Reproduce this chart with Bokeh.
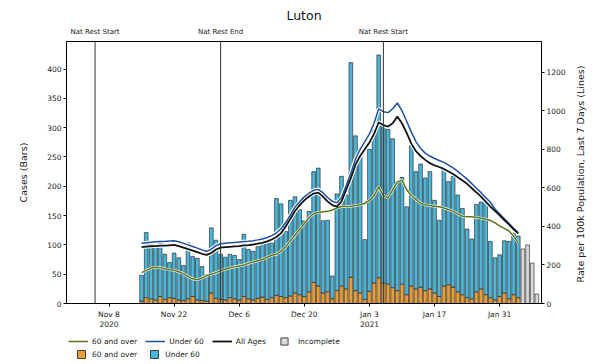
import math
import pandas as pd
from bokeh.plotting import figure
from bokeh.layouts import column, row
from bokeh.core.properties import value
from bokeh.models import (Range1d, LinearAxis, FixedTicker, Span, Legend,
                          LegendItem, ColumnDataSource)
from bokeh.embed import file_html
from bokeh.resources import INLINE

# ---------------- data ----------------
ref_date = pd.Timestamp("2020-11-08")
bar_start = "2020-11-15"

cases_total = [48, 121, 103, 100, 103, 84, 70, 86, 78, 65, 103, 80, 77, 63, 49, 129, 108, 84, 79, 84, 82, 75,
               118, 92, 89, 97, 113, 102, 103, 179, 170, 123, 176, 182, 160, 141, 157, 225, 231, 141, 142, 47, 187, 217, 185, 411,
               286, 255, 109, 263, 297, 424, 305, 297, 281, 207, 215, 165, 269, 225, 238, 214, 225, 176,
               142, 227, 208, 217, 185, 162, 127, 110, 169, 173, 172, 106, 78, 83, 107, 106, 120, 115]
cases_60_plus = [4, 10, 8, 6, 12, 7, 10, 9, 6, 5, 8, 12, 6, 5, 4, 18, 9, 7, 6, 10, 8, 6,
                 12, 8, 6, 9, 11, 7, 10, 14, 12, 10, 13, 18, 15, 12, 20, 36, 30, 18, 20, 8, 22, 30, 25, 45,
                 22, 18, 7, 21, 35, 44, 35, 33, 27, 22, 33, 15, 30, 25, 28, 22, 25, 18,
                 12, 30, 32, 28, 20, 15, 10, 8, 20, 25, 15, 10, 6, 12, 18, 8, 15, 10]
incomplete_dates = ["2021-02-05", "2021-02-06", "2021-02-07", "2021-02-08"]
incomplete_cases = [93, 100, 69, 16]

rate_all = [292, 295, 297, 298, 300, 300, 302, 304, 298, 290, 282, 274, 266, 258, 252, 262, 280, 290, 292, 294, 296, 298,
            301, 303, 306, 310, 315, 322, 332, 345, 365, 400, 440, 480, 510, 535, 555, 570, 575, 555, 530, 510, 503, 530, 590, 650,
            720, 765, 800, 835, 880, 940, 925, 918, 935, 970, 935, 885, 830, 790, 765, 745, 728, 716,
            708, 698, 685, 672, 655, 638, 621, 598, 576, 554, 528, 503, 480, 457, 433, 410, 385, 364]
rate_under_60 = [312, 315, 318, 320, 322, 322, 324, 326, 320, 312, 304, 296, 287, 278, 270, 282, 300, 310, 313, 315, 317, 319,
                 321, 323, 326, 330, 335, 342, 352, 366, 388, 420, 460, 500, 528, 553, 572, 587, 592, 575, 550, 530, 522, 550, 612, 675,
                 750, 800, 840, 880, 935, 1010, 995, 990, 1010, 1040, 1000, 945, 890, 840, 805, 780, 765, 752,
                 742, 732, 718, 703, 685, 665, 645, 622, 598, 575, 550, 525, 490, 465, 440, 415, 390, 368]
rate_60_plus = [160, 172, 183, 188, 186, 180, 175, 172, 165, 155, 140, 128, 123, 132, 145, 152, 160, 170, 178, 185, 190, 195,
                200, 208, 215, 222, 228, 240, 250, 255, 272, 295, 325, 355, 385, 415, 445, 467, 472, 476, 478, 485, 495, 503, 503, 505,
                508, 512, 520, 535, 560, 605, 560, 548, 590, 630, 640, 590, 560, 540, 520, 512, 508, 505,
                502, 495, 488, 478, 465, 452, 450, 450, 447, 442, 437, 431, 418, 402, 390, 376, 350, 315]

tick_dates = ["2020-11-08", "2020-11-22", "2020-12-06", "2020-12-20", "2021-01-03", "2021-01-17", "2021-01-31"]
tick_labels = ["Nov 8\n2020", "Nov 22", "Dec 6", "Dec 20", "Jan 3\n2021", "Jan 17", "Jan 31"]
left_ticks = [0, 50, 100, 150, 200, 250, 300, 350, 400]
right_ticks = [0, 200, 400, 600, 800, 1000, 1200]

event_dates = ["2020-11-05", "2020-12-02", "2021-01-06"]
event_labels = ["Nat Rest Start", "Nat Rest End", "Nat Rest Start"]

title_text = "Luton"
left_label = "Cases (Bars)"
right_label = "Rate per 100k Population, Last 7 Days (Lines)"

# ---------------- helpers ----------------
def day_num(d):
    return (pd.Timestamp(d) - ref_date).days

dates = pd.date_range(bar_start, periods=len(cases_total))
x = [day_num(d) for d in dates]
under = [t - o for t, o in zip(cases_total, cases_60_plus)]

src = ColumnDataSource(dict(x=x, over=cases_60_plus, total=cases_total, under=under,
                            r_all=rate_all, r_u60=rate_under_60, r_60=rate_60_plus))
inc_src = ColumnDataSource(dict(x=[day_num(d) for d in incomplete_dates], top=incomplete_cases))

FONT = "DejaVu Sans"
X0, X1 = -9.14, 93.0
Y1 = 447
R1 = 1359
MAIN_W = 572
STRIP_W = 598 - MAIN_W
MAIN_H = 332
LEG_H = 364 - MAIN_H

p = figure(width=MAIN_W, height=MAIN_H, output_backend="svg", toolbar_location=None,
           x_range=Range1d(X0, X1), y_range=Range1d(0, Y1),
           min_border_left=66, min_border_right=31, min_border_top=41, min_border_bottom=26)
p.extra_y_ranges = {"rate": Range1d(0, R1)}
p.grid.visible = False
p.outline_line_color = "black"
p.outline_line_width = 1
p.background_fill_color = "white"
p.border_fill_color = "white"

p.title.text = title_text
p.title.align = "center"
p.title.text_font = FONT
p.title.text_font_size = "12.5px"
p.title.text_font_style = "normal"
p.title.text_color = "#111111"
p.title.standoff = 3

teal = "#4ab6da"
orange = "#e99d38"
grey = "#d9d9d9"
edge = "#1a1a1a"

p.vbar(x="x", top="over", bottom=0, width=0.8, source=src, fill_color=orange, line_color=edge, line_width=0.6)
p.vbar(x="x", top="total", bottom="over", width=0.8, source=src, fill_color=teal, line_color=edge, line_width=0.6)
p.vbar(x="x", top="top", bottom=0, width=0.8, source=inc_src, fill_color=grey, line_color=edge, line_width=0.6)

olive = "#5f751c"
blue = "#1d4fa5"
black = "#111111"
for col, w in [("r_60", 1.5 + 1.2), ("r_u60", 1.5 + 2.2), ("r_all", 1.8 + 2.2)]:
    p.line(x="x", y=col, source=src, y_range_name="rate", line_color="white", line_width=w)
p.line(x="x", y="r_60", source=src, y_range_name="rate", line_color=olive, line_width=1.5)
p.line(x="x", y="r_u60", source=src, y_range_name="rate", line_color=blue, line_width=1.5)
p.line(x="x", y="r_all", source=src, y_range_name="rate", line_color=black, line_width=1.8)

for d in event_dates:
    p.add_layout(Span(location=day_num(d), dimension="height", line_color="#333333", line_width=1))

# axes
def style_axis(ax):
    ax.major_tick_out = 3
    ax.major_tick_in = 0
    ax.minor_tick_out = 0
    ax.minor_tick_in = 0
    ax.axis_line_color = "black"
    ax.major_tick_line_color = "black"
    ax.major_label_text_font = FONT
    ax.major_label_text_font_size = "7.5px"
    ax.major_label_text_color = "#222222"
    ax.major_label_standoff = 3
    ax.axis_label_text_font = FONT
    ax.axis_label_text_font_size = "9.5px"
    ax.axis_label_text_font_style = "normal"
    ax.axis_label_text_color = "#222222"

xa = p.xaxis[0]
xa.ticker = FixedTicker(ticks=[day_num(d) for d in tick_dates])
xa.major_label_overrides = {day_num(d): lab for d, lab in zip(tick_dates, tick_labels)}
style_axis(xa)

ya = p.yaxis[0]
ya.ticker = FixedTicker(ticks=left_ticks)
ya.axis_label = left_label
style_axis(ya)
ya.major_label_standoff = 2
ya.axis_label_standoff = 15

ra = LinearAxis(y_range_name="rate", ticker=FixedTicker(ticks=right_ticks))
style_axis(ra)
ra.major_label_standoff = 2
p.add_layout(ra, "right")

# event labels as a label-only axis above the frame
ev = LinearAxis(ticker=FixedTicker(ticks=[day_num(d) for d in event_dates]),
                major_label_overrides={day_num(d): lab for d, lab in zip(event_dates, event_labels)})
style_axis(ev)
ev.major_tick_out = 0
ev.axis_line_alpha = 0
ev.major_label_text_font_size = "7px"
ev.major_label_standoff = 6
p.add_layout(ev, "above")

# ---------------- legend strip (separate figure, pixel coordinates) ----------------
lf = figure(width=MAIN_W, height=LEG_H, output_backend="svg", toolbar_location=None,
            x_range=Range1d(0, MAIN_W), y_range=Range1d(0, LEG_H),
            x_axis_location=None, y_axis_location=None,
            min_border_left=0, min_border_right=0, min_border_top=0, min_border_bottom=0)
lf.grid.visible = False
lf.outline_line_color = None
lf.background_fill_color = "white"
lf.border_fill_color = "white"

off = [-100, -90]
g60 = lf.line(x=off, y=off, line_color=olive, line_width=1.5)
gu60 = lf.line(x=off, y=off, line_color=blue, line_width=1.5)
gall = lf.line(x=off, y=off, line_color=black, line_width=1.8)
ginc = lf.scatter(x=off, y=off, marker="square", size=8, fill_color=grey, line_color=edge, line_width=0.8)
b60 = lf.vbar(x=off, top=off, width=1, fill_color=orange, line_color=edge, line_width=0.8)
bu60 = lf.vbar(x=off, top=off, width=1, fill_color=teal, line_color=edge, line_width=0.8)

def make_legend(items, loc, gw, gh, standoff, spacing):
    return Legend(items=items, location=loc, orientation="horizontal",
                  glyph_width=gw, glyph_height=gh, label_standoff=standoff, spacing=spacing,
                  padding=0, margin=0, border_line_alpha=0, background_fill_alpha=0,
                  label_text_font=FONT, label_text_font_size="7.5px", label_text_color="#222222",
                  label_height=gh)

leg1 = make_legend([LegendItem(label="60 and over", renderers=[g60]),
                    LegendItem(label="Under 60", renderers=[gu60]),
                    LegendItem(label="All Ages", renderers=[gall]),
                    LegendItem(label="Incomplete", renderers=[ginc])], (2, 14), 20, 18, 4, 8)
leg2 = make_legend([LegendItem(label="60 and over", renderers=[b60]),
                    LegendItem(label="Under 60", renderers=[bu60])], (10, 5), 10, 10, 6, 12)
lf.add_layout(leg1)
lf.add_layout(leg2)

# ---------------- right-hand axis title strip ----------------
FRAME_TOP, FRAME_BOTTOM = 41, 306
st = figure(width=STRIP_W, height=364, output_backend="svg", toolbar_location=None,
            x_range=Range1d(0, STRIP_W), y_range=Range1d(0, FRAME_BOTTOM - FRAME_TOP),
            x_axis_location=None, y_axis_location=None,
            min_border_left=0, min_border_right=0, min_border_top=FRAME_TOP,
            min_border_bottom=364 - FRAME_BOTTOM)
st.grid.visible = False
st.outline_line_color = None
st.background_fill_color = "white"
st.border_fill_color = "white"
st.text(x=[8], y=[(FRAME_BOTTOM - FRAME_TOP) / 2], text=[right_label], angle=math.pi / 2,
        text_align="center", text_baseline="middle", text_font=value(FONT),
        text_font_size="9.5px", text_color="#222222")

layout = row(column(p, lf, spacing=0), st, spacing=0)
open("out.html", "w").write(file_html(layout, INLINE))
